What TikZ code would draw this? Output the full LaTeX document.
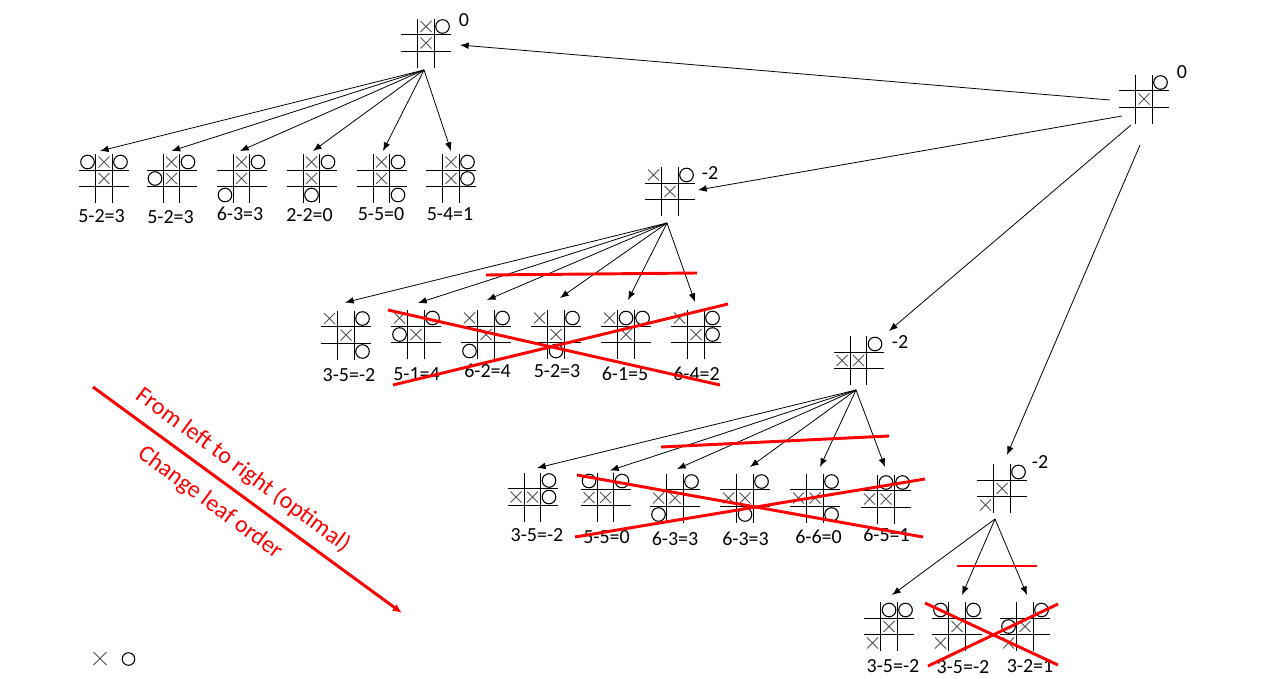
\documentclass[tikz,border=0pt]{standalone}
\usepackage{fontspec}
\setmainfont{Carlito}
\usetikzlibrary{arrows.meta,calc}

\tikzset{
  bd/.style={rectangle, inner sep=0pt, outer sep=0pt, minimum width=37.5pt, minimum height=36.75pt},
  gridln/.style={line width=1pt, black},
  xmk/.style={line width=0.75pt, draw=black!68},
  omk/.style={line width=0.8pt, draw=black},
  arr/.style={line width=0.6pt, -{Latex[length=6.5pt,width=5pt]}},
  score/.style={font=\fontsize{15}{18}\selectfont, anchor=base, inner sep=0pt},
  val/.style={font=\fontsize{15}{18}\selectfont, inner sep=0pt},
  strike/.style={line width=2.2pt, red},
  hint/.style={red, font=\fontsize{18}{22}\selectfont, inner sep=0pt, rotate=-36.4},
}

% a tic-tac-toe board: name, centre, X cells, O cells (column/row, 0..2)
\newcommand\ttt[4]{%
  \node[bd] (#1) at (#2) {};
  \begin{scope}[shift={(#1.center)}]
    \draw[gridln] (-25,-8.25) -- (25,-8.25) (-25,8.25) -- (25,8.25)
                  (-8.25,-24.5) -- (-8.25,24.5) (8.25,-24.5) -- (8.25,24.5);
    \foreach \c/\r in {#3}
      \draw[xmk] ({(\c-1)*16.5-5.5},{(\r-1)*16.5-5.5}) -- ++(11,11)
                 ({(\c-1)*16.5-5.5},{(\r-1)*16.5+5.5}) -- ++(11,-11);
    \foreach \c/\r in {#4}
      \draw[omk] ({(\c-1)*16.5},{(\r-1)*16.5}) circle[radius=5.1pt];
  \end{scope}
}

\begin{document}
\begin{tikzpicture}[x=0.75pt,y=-0.75pt]
\useasboundingbox (0,0) rectangle (1280,678);

% ---------- root and first reply ----------
\ttt{r}{1144,99}{1/1}{2/0}
\node[val] (rv) at (1182,72) {0};
\ttt{t}{426,43}{1/0,1/1}{2/0}
\node[val] (tv) at (464,20) {0};

\ttt{t1}{104,178.5}{1/0,1/1}{0/0,2/0}
\ttt{t2}{171.5,178.5}{1/0,1/1}{2/0,0/1}
\ttt{t3}{241.5,178.5}{1/0,1/1}{2/0,0/2}
\ttt{t4}{311.5,178.5}{1/0,1/1}{2/0,1/2}
\ttt{t5}{381.5,178.5}{1/0,1/1}{2/0,2/2}
\ttt{t6}{451,178.5}{1/0,1/1}{2/0,2/1}
\node[score] (t1s) at (101.5,222) {5-2=3};
\node[score] (t2s) at (170.5,223) {5-2=3};
\node[score] (t3s) at (240,220) {6-3=3};
\node[score] (t4s) at (309.5,221) {2-2=0};
\node[score] (t5s) at (381,220) {5-5=0};
\node[score] (t6s) at (450,220) {5-4=1};

\coordinate (to) at ([shift={(-2,2.5)}]t.south);
\foreach \k/\dx in {1/-4,2/0,3/-1.5,4/1.5,5/1.5,6/0}
  \draw[arr] (to) -- ([shift={(\dx,-3)}]t\k.north);

% ---------- second reply ----------
\ttt{b}{670,191.5}{0/0,1/1}{2/0}
\node[val] (bv) at (710,173) {-2};
\ttt{b1}{346,335}{0/0,1/1}{2/0,2/2}
\ttt{b2}{416,334.5}{0/0,1/1}{2/0,0/1}
\ttt{b3}{486,334.5}{0/0,1/1}{2/0,0/2}
\ttt{b4}{556,334.5}{0/0,1/1}{2/0,1/2}
\ttt{b5}{626,334.5}{0/0,1/1}{1/0,2/0}
\ttt{b6}{696,334.5}{0/0,1/1}{2/0,2/1}
\node[score] (b1s) at (349,381) {3-5=-2};
\node[score] (b2s) at (416.5,380) {5-1=4};
\node[score] (b3s) at (487.5,377) {6-2=4};
\node[score] (b4s) at (557,377) {5-2=3};
\node[score] (b5s) at (625,380) {6-1=5};
\node[score] (b6s) at (696.5,380) {6-4=2};

\coordinate (bo) at ([shift={(-3,7)}]b.south);
\foreach \k/\dx/\dy in {1/-1/-8,2/2/-7,3/1/-10,4/4/-12,5/2/-10,6/-1/-8}
  \draw[arr] (bo) -- ([shift={(\dx,\dy)}]b\k.north);

\draw[strike] (486,275) -- (697,273);
\draw[strike] (388,310) -- (720,385);
\draw[strike] (393,385) -- (728,304);

% ---------- third reply ----------
\ttt{c}{858.5,360.5}{0/1,1/1}{2/0}
\node[val] (cv) at (900,342) {-2};
\ttt{c1}{532.5,497}{0/1,1/1}{2/0,2/1}
\ttt{c2}{605.5,497.5}{0/1,1/1}{0/0,2/0}
\ttt{c3}{675,498}{0/1,1/1}{2/0,0/2}
\ttt{c4}{745,498}{0/1,1/1}{2/0,1/2}
\ttt{c5}{815,498}{0/1,1/1}{2/0,2/2}
\ttt{c6}{886,499}{0/1,1/1}{1/0,2/0}
\node[score] (c1s) at (537,541) {3-5=-2};
\node[score] (c2s) at (606.5,543) {5-5=0};
\node[score] (c3s) at (675,545) {6-3=3};
\node[score] (c4s) at (745.5,545) {6-3=3};
\node[score] (c5s) at (818.5,543) {6-6=0};
\node[score] (c6s) at (886.5,541) {6-5=1};

\coordinate (co) at ([shift={(-2.5,5)}]c.south);
\foreach \k/\dx/\dy in {1/4.5/-4.5,2/4.5/-2.5,3/2/-4.5,4/5/-6.5,5/5/-6.5,6/-1/-7.5}
  \draw[arr] (co) -- ([shift={(\dx,\dy)}]c\k.north);

\draw[strike] (661,447) -- (889,436);
\draw[strike] (577,475) -- (923,537);
\draw[strike] (575,537) -- (925,479);

% ---------- fourth reply ----------
\ttt{d}{1002,488.5}{1/1,0/2}{2/0}
\node[val] (dv) at (1040,462) {-2};
\ttt{d1}{889,626.5}{1/1,0/2}{1/0,2/0}
\ttt{d2}{957,626.5}{1/1,0/2}{0/0,2/0}
\ttt{d3}{1025,626.5}{1/1,0/2}{2/0,0/1}
\node[score] (d1s) at (893,672) {3-5=-2};
\node[score] (d2s) at (963,673) {3-5=-2};
\node[score] (d3s) at (1030,672) {3-2=1};

\coordinate (do) at ([shift={(-7,6)}]d.south);
\foreach \k/\dx in {1/3,2/5,3/2}
  \draw[arr] (do) -- ([shift={(\dx,-7)}]d\k.north);

\draw[strike] (957,566) -- (1037,566);
\draw[strike] (925,603) -- (1058,665);
\draw[strike] (928,666) -- (1058,604);

% ---------- edges from the root ----------
\draw[arr] ([shift={(-9,1)}]r.west) -- ([shift={(9,2)}]t.east);
\draw[arr] ([shift={(-22,17)}]r.center) -- ([shift={(3,-1.5)}]b.east);
\draw[arr] ([shift={(-13,26)}]r.center) -- ([shift={(5.5,-5)}]c.north east);
\draw[arr] ([shift={(-4,46)}]r.center) -- ([shift={(5,-9)}]d.north);

% ---------- search-order hint ----------
\coordinate (ha) at (93,387);
\coordinate (hb) at (402,613);
\draw[red, line width=2.2pt, -{Latex[length=7pt,width=6pt]}] (ha) -- (hb);
\node[hint] (h1) at (243,470) {From left to right (optimal)};
\node[hint] (h2) at (210,503) {Change leaf order};

% ---------- legend marks ----------
\draw[xmk] (93.5,652) -- (106.5,665) (93.5,665) -- (106.5,652);
\draw[omk] (128.5,659) circle[radius=4.7pt];
\end{tikzpicture}
\end{document}
